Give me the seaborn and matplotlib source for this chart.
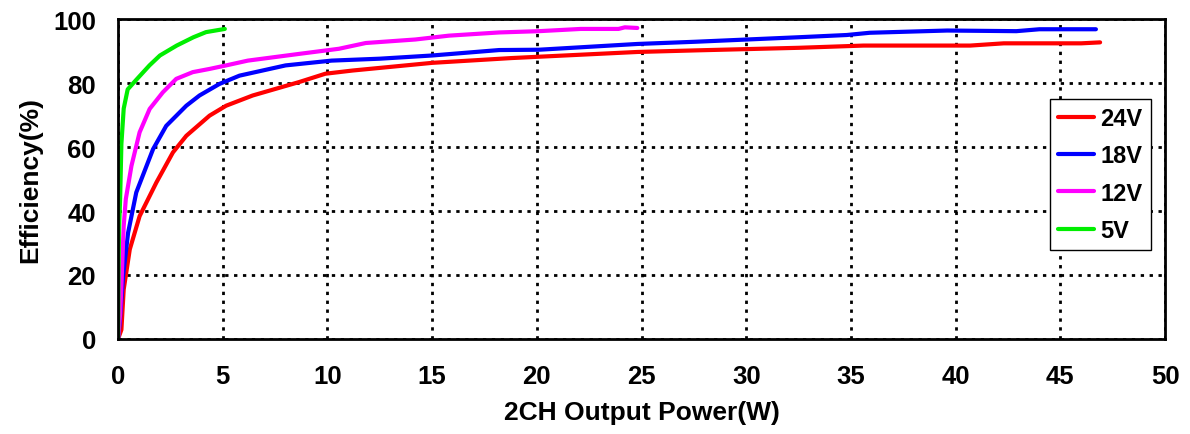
import numpy as np
import pandas as pd
import seaborn as sns
import matplotlib as mpl
mpl.use('Agg')
import matplotlib.pyplot as plt

# efficiency curves
p_24v = [0, 0.16, 0.27, 0.56, 1.03, 1.83, 2.62, 3.26, 4.37, 5.16, 6.43, 8.65, 9.9, 11.2,
         15.0, 18.8, 24.8, 27.6, 32.5, 35.6, 40.7, 42.3, 46.0, 46.9]
e_24v = [0, 2.9, 15.5, 28.0, 38.4, 48.9, 58.3, 63.5, 69.8, 72.9, 76.1, 80.3, 82.9, 83.9,
         86.3, 87.8, 89.7, 90.2, 91.0, 91.7, 91.7, 92.4, 92.4, 92.7]

p_18v = [0, 0.08, 0.24, 0.48, 0.87, 1.67, 2.3, 3.26, 3.89, 4.84, 5.8, 8.0, 10.2, 12.5,
         15.0, 18.2, 20.1, 24.8, 27.6, 32.5, 34.8, 35.9, 39.6, 42.9, 44.0, 46.7]
e_18v = [0, 5.0, 19.6, 33.2, 45.8, 59.3, 66.6, 72.9, 76.1, 79.7, 82.3, 85.5, 87.0, 87.6,
         88.6, 90.3, 90.4, 92.2, 92.9, 94.3, 95.0, 95.7, 96.4, 96.2, 96.8, 96.8]

p_12v = [0, 0.1, 0.16, 0.27, 0.37, 0.64, 1.03, 1.51, 2.14, 2.78, 3.57, 4.37, 5.16, 6.2,
         8.65, 10.55, 11.83, 14.2, 15.8, 18.2, 20.1, 22.1, 23.9, 24.2, 24.8]
e_12v = [0, 8.0, 16.5, 35.3, 43.7, 54.1, 64.6, 71.9, 77.1, 81.3, 83.4, 84.4, 85.5, 87.0,
         89.1, 90.7, 92.5, 93.6, 94.8, 95.8, 96.2, 96.9, 96.9, 97.4, 97.2]

p_5v = [0, 0.02, 0.05, 0.1, 0.16, 0.27, 0.46, 0.87, 1.5, 2.0, 2.8, 3.6, 4.2, 5.1]
e_5v = [0, 20.0, 35.0, 44.0, 61.0, 72.0, 78.0, 81.0, 85.5, 88.6, 91.7, 94.3, 95.9, 96.9]

series = ['24V', '18V', '12V', '5V']
colors = ['#ff0000', '#0000ff', '#ff00ff', '#00ee00']

frames = []
for name, p, e in zip(series, [p_24v, p_18v, p_12v, p_5v], [e_24v, e_18v, e_12v, e_5v]):
    frames.append(pd.DataFrame({'power': p, 'eff': e, 'vin': name}))
df = pd.concat(frames, ignore_index=True)

sns.set_style('white')
plt.rcParams['font.family'] = ['Liberation Sans', 'DejaVu Sans']
plt.rcParams['font.weight'] = 'bold'
plt.rcParams['text.color'] = 'black'
plt.rcParams['axes.labelcolor'] = 'black'
plt.rcParams['xtick.color'] = 'black'
plt.rcParams['ytick.color'] = 'black'

fig = plt.figure(figsize=(11.9, 4.35), dpi=100)
ax = fig.add_axes([0.0992, 0.2184, 0.8798, 0.7356])

sns.lineplot(data=df, x='power', y='eff', hue='vin', hue_order=series,
             palette=colors, sort=False, estimator=None, linewidth=3, ax=ax)

ax.set_xlim(0, 50)
ax.set_ylim(0, 100)
ax.set_xticks(np.arange(0, 51, 5))
ax.set_yticks(np.arange(0, 101, 20))
ax.grid(True, color='black', linestyle=(0, (1.2, 2.0)), linewidth=2)
ax.tick_params(axis='x', direction='in', length=4, width=1.2, labelsize=18.5, pad=18)
ax.tick_params(axis='y', direction='in', length=4, width=1.2, labelsize=18.5, pad=16)
for lab in ax.get_xticklabels() + ax.get_yticklabels():
    lab.set_fontweight('bold')

for sp in ax.spines.values():
    sp.set_color('black')
    sp.set_linewidth(2)

ax.set_xlabel('2CH Output Power(W)', fontsize=19, fontweight='bold', labelpad=9)
ax.set_ylabel('Efficiency(%)', fontsize=19, fontweight='bold', labelpad=8)

leg = ax.legend(loc='upper left', bbox_to_anchor=(0.890, 0.75), borderaxespad=0,
                fontsize=17, frameon=True, fancybox=False, handlelength=1.5,
                handletextpad=0.3, borderpad=0.35, labelspacing=0.6, title=None)
leg.get_frame().set_edgecolor('black')
leg.get_frame().set_linewidth(1)
leg.get_frame().set_alpha(1)
for t in leg.get_texts():
    t.set_fontweight('bold')
for ln in leg.get_lines():
    ln.set_linewidth(3)

plt.savefig('out.png', dpi=100)
